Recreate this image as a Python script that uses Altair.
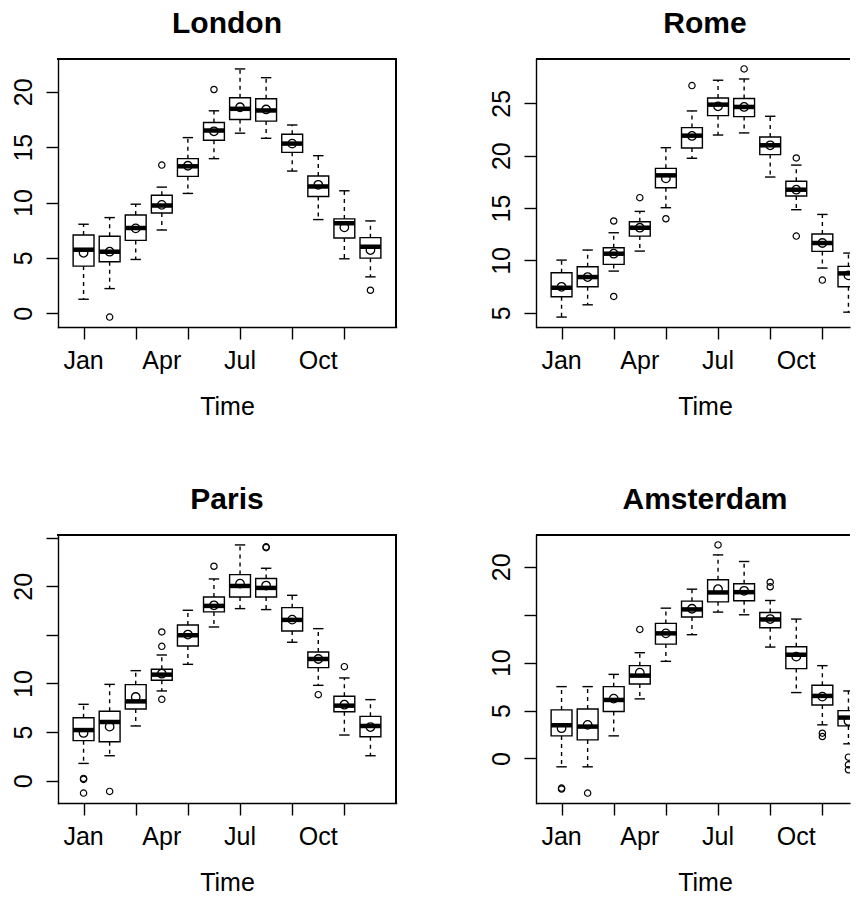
import altair as alt
import pandas as pd

FONT = "Liberation Sans"

months = list(range(1, 13))
label_months = [1, 4, 7, 10]
label_names = ["Jan", "Apr", "Jul", "Oct"]

# London
london_low = [1.27, 2.23, 4.86, 7.52, 10.82, 13.96, 16.26, 15.80, 12.84, 8.46, 4.92, 3.29]
london_q1 = [4.26, 4.65, 6.58, 9.06, 12.36, 15.62, 17.50, 17.35, 14.53, 10.54, 6.80, 4.98]
london_median = [5.74, 5.56, 7.70, 9.73, 13.27, 16.50, 18.46, 18.31, 15.32, 11.45, 8.13, 6.01]
london_q3 = [7.07, 6.95, 8.88, 10.66, 13.96, 17.22, 19.46, 19.37, 16.16, 12.39, 8.52, 6.83]
london_high = [8.04, 8.64, 9.85, 11.39, 15.86, 18.28, 22.06, 21.27, 17.00, 14.23, 11.06, 8.34]
london_mean = [5.46, 5.56, 7.67, 9.79, 13.32, 16.43, 18.60, 18.40, 15.32, 11.60, 7.76, 5.71]
london_out_month = [2, 4, 6, 12]
london_out_value = [-0.34, 13.38, 20.20, 2.08]

# Rome
rome_low = [4.59, 5.76, 8.98, 10.89, 15.03, 19.75, 21.97, 22.17, 17.96, 14.84, 9.27, 5.06]
rome_q1 = [6.53, 7.48, 9.62, 12.32, 16.94, 20.73, 23.82, 23.73, 20.10, 16.15, 10.86, 7.48]
rome_median = [7.39, 8.41, 10.64, 13.12, 18.12, 21.91, 24.87, 24.65, 20.99, 16.75, 11.66, 8.76]
rome_q3 = [8.82, 9.39, 11.21, 13.69, 18.79, 22.68, 25.50, 25.45, 21.78, 17.55, 12.52, 9.43]
rome_high = [10.03, 10.99, 12.64, 14.68, 20.76, 24.27, 27.20, 27.32, 23.76, 19.10, 14.39, 10.70]
rome_mean = [7.48, 8.41, 10.64, 13.12, 17.83, 21.88, 24.71, 24.65, 20.99, 16.75, 11.66, 8.57]
rome_out_month = [3, 3, 4, 5, 6, 8, 10, 10, 11]
rome_out_value = [13.76, 6.56, 15.99, 13.98, 26.69, 28.28, 19.78, 12.32, 8.12]

# Paris
paris_low = [1.78, 2.57, 5.63, 9.23, 11.97, 15.81, 17.70, 17.60, 14.24, 9.81, 4.70, 2.57]
paris_q1 = [4.12, 4.01, 7.38, 10.33, 13.86, 17.36, 18.90, 18.90, 15.40, 11.63, 7.10, 4.53]
paris_median = [5.21, 6.04, 8.16, 10.91, 14.96, 17.98, 20.03, 19.83, 16.54, 12.52, 7.72, 5.63]
paris_q3 = [6.48, 7.14, 9.88, 11.46, 16.02, 18.90, 21.20, 20.79, 17.80, 13.24, 8.68, 6.62]
paris_high = [7.86, 9.91, 11.32, 12.93, 17.53, 20.75, 24.25, 21.85, 19.07, 15.64, 10.57, 8.34]
paris_mean = [4.91, 5.56, 8.61, 11.01, 15.03, 18.04, 20.27, 20.07, 16.57, 12.52, 7.82, 5.52]
paris_out_month = [1, 1, 1, 2, 4, 4, 4, 6, 8, 8, 10, 11]
paris_out_value = [0.24, 0.14, -1.27, -1.10, 15.30, 13.82, 8.37, 22.06, 24.05, 23.97, 8.85, 11.73]

# Amsterdam
amsterdam_low = [-0.87, -0.87, 2.36, 6.22, 10.14, 12.92, 15.28, 15.00, 11.63, 6.88, 3.51, 1.53]
amsterdam_q1 = [2.36, 1.94, 4.90, 7.78, 11.94, 14.76, 16.35, 16.46, 13.65, 9.38, 5.59, 3.40]
amsterdam_median = [3.47, 3.33, 6.11, 8.65, 13.06, 15.56, 17.33, 17.36, 14.51, 10.83, 6.53, 4.27]
amsterdam_q3 = [5.07, 5.17, 7.50, 9.69, 14.10, 16.42, 18.65, 18.23, 15.24, 11.67, 7.64, 5.00]
amsterdam_high = [7.50, 7.50, 8.78, 11.04, 15.69, 17.67, 21.25, 20.56, 16.49, 14.55, 9.69, 7.05]
amsterdam_mean = [3.16, 3.51, 6.25, 8.96, 13.06, 15.63, 17.67, 17.50, 14.55, 10.63, 6.46, 3.92]
amsterdam_out_month = [1, 1, 2, 4, 7, 9, 9, 11, 11, 12, 12, 12]
amsterdam_out_value = [-3.09, -3.19, -3.61, 13.47, 22.29, 18.40, 17.92, 2.64, 2.29, 0.14, -0.66, -1.18]

LW = 1.4
FS = 25            # tick label / axis title size
PANEL_W = 338      # full plot width (left column)
CUT_W = 314        # right column runs off the page edge
PANEL_H = 268
XDOM = [0.5 - 0.04 * 12, 12.5 + 0.04 * 12]   # R-style x range
PX_PER_MONTH = PANEL_W / (XDOM[1] - XDOM[0])


def panel(name, low, q1, median, q3, high, mean, out_month, out_value,
          y_ticks, y_shown, cut=False):
    df = pd.DataFrame({"month": months, "low": low, "q1": q1, "median": median,
                       "q3": q3, "high": high, "mean": mean})
    outs = pd.DataFrame({"month": out_month, "value": out_value})
    labs = pd.DataFrame({"month": label_months, "name": label_names})

    # R-style range: data range widened by 4% each side
    vals = low + high + out_value
    span = max(vals) - min(vals)
    ydom = [min(vals) - 0.04 * span, max(vals) + 0.04 * span]
    width = CUT_W if cut else PANEL_W
    xdom = [XDOM[0], XDOM[0] + width / PX_PER_MONTH]

    xaxis = alt.Axis(values=months, labels=False, title="Time",
                     grid=False, domain=True, domainColor="black",
                     domainWidth=LW, domainCap="butt" if cut else "square",
                     tickSize=12, tickColor="black", tickWidth=LW,
                     titleFont=FONT, titleFontSize=FS, titleFontWeight="normal",
                     titleColor="black", titleY=87, titleX=PANEL_W / 2,
                     titleAlign="center", titleBaseline="alphabetic")
    yaxis = alt.Axis(values=y_ticks,
                     labelExpr=f"indexof({y_shown}, datum.value) >= 0 ? datum.label : ''",
                     title=None, grid=False, domain=True, domainColor="black",
                     domainWidth=LW, domainCap="square", tickSize=12,
                     tickColor="black", tickWidth=LW, labelFont=FONT,
                     labelFontSize=FS, labelColor="black", labelAngle=270,
                     labelAlign="center", labelBaseline="alphabetic",
                     labelPadding=15, labelOverlap=False, labelFlush=False)
    xs = alt.Scale(domain=xdom, nice=False, zero=False)
    ys = alt.Scale(domain=ydom, nice=False, zero=False)

    def X(f):
        return alt.X(f, type="quantitative", scale=xs, axis=xaxis)

    def Y(f):
        return alt.Y(f, type="quantitative", scale=ys, axis=yaxis)

    base = alt.Chart(df).transform_calculate(
        left="datum.month - 0.4", right="datum.month + 0.4",
        cap_l="datum.month - 0.2", cap_r="datum.month + 0.2")

    dash = dict(color="black", strokeWidth=LW, strokeDash=[4, 4], clip=cut)
    solid = dict(color="black", strokeWidth=LW, clip=cut)
    upper = base.mark_rule(**dash).encode(x=X("month"), y=Y("q3"), y2="high:Q")
    lower = base.mark_rule(**dash).encode(x=X("month"), y=Y("q1"), y2="low:Q")
    cap_hi = base.mark_rule(**solid).encode(x=X("cap_l"), x2="cap_r:Q", y=Y("high"))
    cap_lo = base.mark_rule(**solid).encode(x=X("cap_l"), x2="cap_r:Q", y=Y("low"))
    box = base.mark_rect(fill="white", stroke="black", strokeWidth=LW,
                         clip=cut).encode(
        x=X("left"), x2="right:Q", y=Y("q1"), y2="q3:Q")
    med = base.mark_rule(color="black", strokeWidth=4.5, clip=cut).encode(
        x=X("left"), x2="right:Q", y=Y("median"))
    out = alt.Chart(outs).mark_point(shape="circle", filled=False, color="black",
                                     size=40, strokeWidth=1.2, opacity=1,
                                     clip=cut).encode(x=X("month"), y=Y("value"))
    avg = base.mark_point(shape="circle", filled=False, color="black", size=72,
                          strokeWidth=1.3, opacity=1, clip=cut).encode(
        x=X("month"), y=Y("mean"))

    # frame: left and bottom come from the axis lines
    frame = [base.mark_rule(color="black", strokeWidth=LW,
                            strokeCap="butt" if cut else "square").encode(
        x=alt.datum(xdom[0], scale=xs), x2=alt.datum(xdom[1]),
        y=alt.datum(ydom[1], scale=ys))]
    if not cut:
        frame.append(base.mark_rule(color="black", strokeWidth=LW,
                                    strokeCap="square").encode(
            x=alt.datum(xdom[1], scale=xs), y=alt.datum(ydom[0], scale=ys),
            y2=alt.datum(ydom[1])))

    # month labels under the ticks (R drops the crowded ones)
    ticklab = alt.Chart(labs).mark_text(
        font=FONT, fontSize=FS, color="black", align="center",
        baseline="alphabetic").encode(
        x=X("month"), text="name:N", y=alt.value(PANEL_H + 41.5))

    # panel heading, centred over the full (uncut) plot width
    head = alt.Chart(pd.DataFrame({"city": [name]})).mark_text(
        font=FONT, fontSize=30, fontWeight="bold", color="black",
        align="center", baseline="alphabetic").encode(
        text="city:N", x=alt.value(PANEL_W / 2), y=alt.value(-26))

    return alt.layer(upper, lower, cap_hi, cap_lo, box, med, out, avg,
                     *frame, ticklab, head).properties(width=width, height=PANEL_H)


london = panel("London", london_low, london_q1, london_median, london_q3,
               london_high, london_mean, london_out_month, london_out_value,
               [0, 5, 10, 15, 20], [0, 5, 10, 15, 20])
rome = panel("Rome", rome_low, rome_q1, rome_median, rome_q3, rome_high,
             rome_mean, rome_out_month, rome_out_value,
             [5, 10, 15, 20, 25], [5, 10, 15, 20, 25], cut=True)
paris = panel("Paris", paris_low, paris_q1, paris_median, paris_q3, paris_high,
              paris_mean, paris_out_month, paris_out_value,
              [0, 5, 10, 15, 20, 25], [0, 5, 10, 20])
amsterdam = panel("Amsterdam", amsterdam_low, amsterdam_q1, amsterdam_median,
                  amsterdam_q3, amsterdam_high, amsterdam_mean,
                  amsterdam_out_month, amsterdam_out_value,
                  [0, 5, 10, 15, 20], [0, 5, 10, 20], cut=True)

chart = alt.concat(london, rome, paris, amsterdam, columns=2,
                   spacing={"row": 208, "column": 140}, bounds="flush").properties(
    padding={"left": 2, "top": 0, "right": 0, "bottom": 0},
    background="white",
).configure_view(stroke="transparent")

chart.save("out.html", embed_options={"renderer": "svg", "actions": False})
